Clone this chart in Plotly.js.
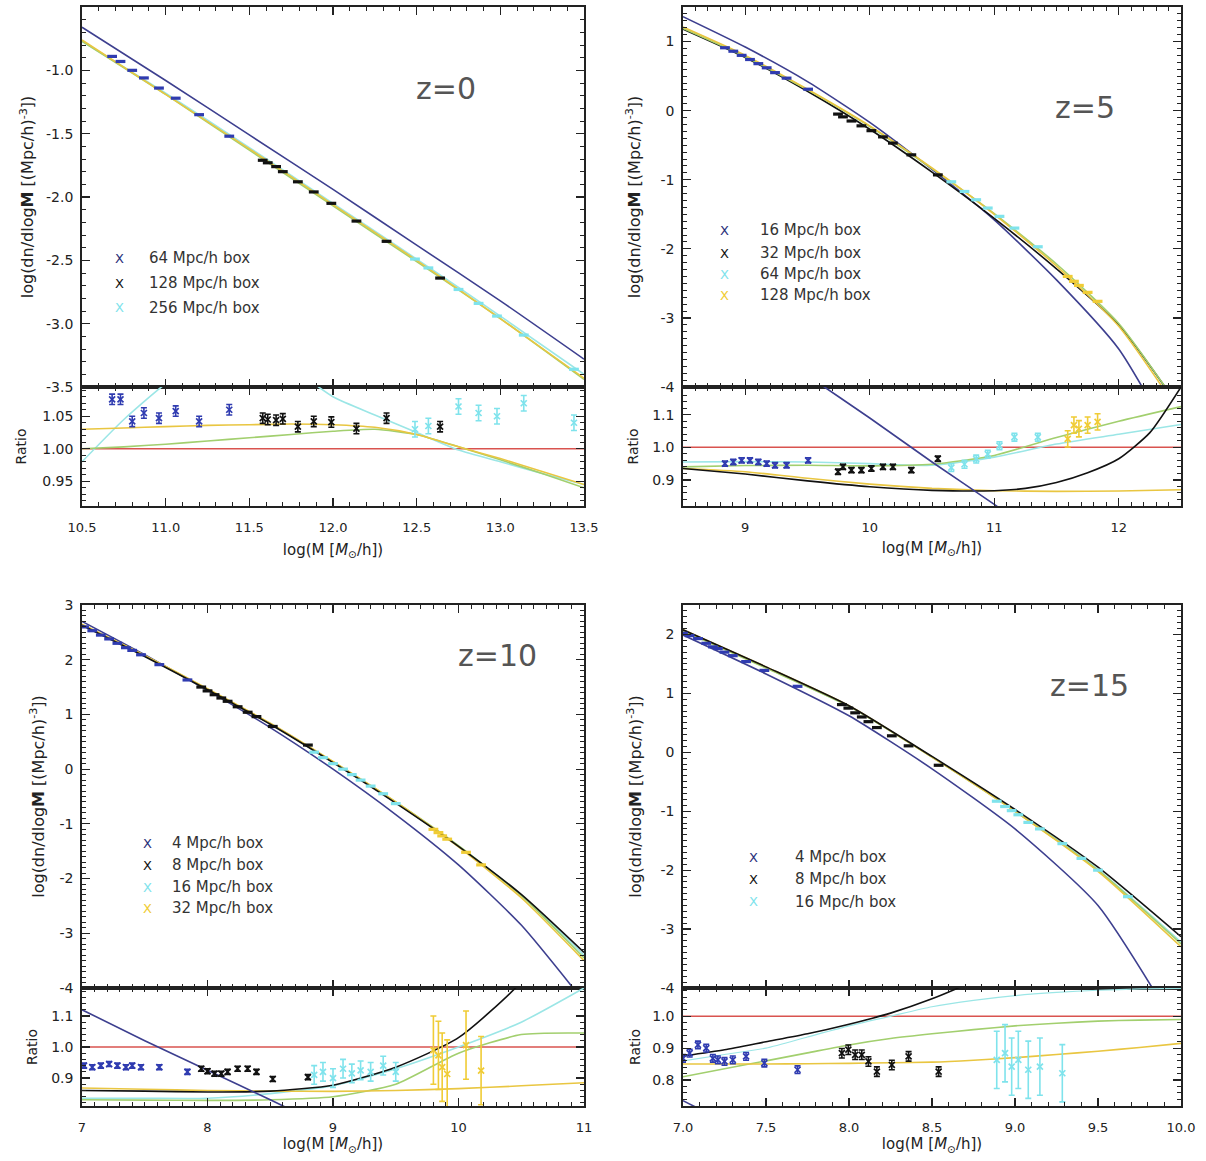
<!DOCTYPE html>
<html><head><meta charset="utf-8">
<script src="https://cdn.plot.ly/plotly-3.0.1.min.js"></script>
<style>html,body{margin:0;padding:0;background:#fff}#chart{width:1206px;height:1161px}</style>
</head><body><div id="chart"></div>
<script>
// ================= DATA =================
// ---- Panel 1 : z=0 ----
const p1_grid   = [10.5, 11.0, 11.5, 12.0, 12.5, 13.0, 13.5];
const p1_navy   = [-0.66, -1.08, -1.51, -1.94, -2.38, -2.82, -3.28];
const p1_yellow = [-0.76, -1.19, -1.62, -2.06, -2.50, -2.96, -3.43];
const p1_green  = [-0.77, -1.19, -1.63, -2.07, -2.51, -2.96, -3.44];
const p1_cyan   = [-0.77, -1.18, -1.61, -2.05, -2.49, -2.94, -3.40];
const p1_rgrid    = [10.5, 10.75, 11.0, 11.25, 11.5, 11.75, 12.0, 12.25, 12.5, 12.75, 13.0, 13.25, 13.5];
const p1_r_yellow = [1.030, 1.032, 1.034, 1.036, 1.037, 1.038, 1.037, 1.033, 1.022, 1.003, 0.985, 0.965, 0.945];
const p1_r_green  = [1.000, 1.003, 1.007, 1.012, 1.017, 1.022, 1.027, 1.030, 1.022, 1.003, 0.983, 0.962, 0.940];
const p1_r_cyan   = [0.980, 1.045, 1.100, 1.140, 1.160, 1.125, 1.080, 1.052, 1.025, 0.998, 0.980, 0.962, 0.945];
const p1_blue_x  = [10.68, 10.73, 10.80, 10.87, 10.96, 11.06, 11.20, 11.38];
const p1_blue_y  = [-0.89, -0.93, -1.00, -1.06, -1.14, -1.22, -1.35, -1.52];
const p1_blue_r  = [1.076, 1.076, 1.042, 1.055, 1.047, 1.058, 1.042, 1.060];
const p1_black_x = [11.58, 11.61, 11.66, 11.70, 11.79, 11.885, 11.99, 12.14, 12.32, 12.64];
const p1_black_y = [-1.71, -1.73, -1.76, -1.80, -1.88, -1.96, -2.05, -2.19, -2.35, -2.64];
const p1_black_r = [1.047, 1.045, 1.044, 1.046, 1.034, 1.042, 1.041, 1.031, 1.047, 1.034];
const p1_cyan_x  = [12.49, 12.57, 12.75, 12.87, 12.98, 13.14, 13.44];
const p1_cyan_y  = [-2.49, -2.56, -2.73, -2.84, -2.94, -3.09, -3.36];
const p1_cyan_r  = [1.030, 1.035, 1.065, 1.055, 1.050, 1.070, 1.040];
const p1_boxes = ['64 Mpc/h box', '128 Mpc/h box', '256 Mpc/h box'];
const p1_ytick_vals = [-3.5, -3.0, -2.5, -2.0, -1.5, -1.0, -0.5];
const p1_ytick_text = ['-3.5', '-3.0', '-2.5', '-2.0', '-1.5', '-1.0', '-0.5'];

// ---- Panel 2 : z=5 ----
const p2_grid   = [8.5, 9.0, 9.5, 10.0, 10.5, 11.0, 11.5, 12.0, 12.5];
const p2_navy   = [1.36, 0.92, 0.42, -0.17, -0.85, -1.58, -2.45, -3.45, -5.00];
const p2_yellow = [1.21, 0.80, 0.31, -0.22, -0.83, -1.50, -2.25, -3.12, -4.40];
const p2_green  = [1.19, 0.78, 0.30, -0.23, -0.84, -1.49, -2.22, -3.08, -4.33];
const p2_black  = [1.18, 0.77, 0.28, -0.27, -0.89, -1.56, -2.29, -3.10, -4.33];
const p2_r_navy   = [1.50, 1.35, 1.22, 1.09, 0.955, 0.825, 0.69, 0.56, 0.43];
const p2_r_yellow = [0.935, 0.925, 0.905, 0.887, 0.874, 0.867, 0.865, 0.866, 0.870];
const p2_r_green  = [0.940, 0.944, 0.945, 0.943, 0.948, 0.975, 1.030, 1.080, 1.125];
const p2_r_cyan   = [0.955, 0.956, 0.955, 0.950, 0.945, 0.970, 1.010, 1.040, 1.070];
const p2_bgrid    = [8.5, 9.0, 9.5, 10.0, 10.5, 11.0, 11.25, 11.5, 11.75, 12.0, 12.25, 12.5];
const p2_r_black  = [0.935, 0.918, 0.897, 0.879, 0.868, 0.867, 0.874, 0.892, 0.922, 0.965, 1.045, 1.185];
const p2_blue_x  = [8.837, 8.904, 8.971, 9.038, 9.105, 9.172, 9.239, 9.332, 9.505];
const p2_blue_y  = [0.91, 0.86, 0.80, 0.74, 0.68, 0.62, 0.55, 0.47, 0.31];
const p2_blue_r  = [0.950, 0.955, 0.960, 0.960, 0.955, 0.950, 0.945, 0.945, 0.960];
const p2_black_x = [9.745, 9.785, 9.853, 9.933, 10.013, 10.106, 10.186, 10.334, 10.547];
const p2_black_y = [-0.05, -0.09, -0.15, -0.22, -0.29, -0.38, -0.47, -0.64, -0.93];
const p2_black_r = [0.925, 0.940, 0.930, 0.930, 0.935, 0.940, 0.940, 0.930, 0.965];
const p2_cyan_x  = [10.655, 10.761, 10.855, 10.948, 11.042, 11.162, 11.35];
const p2_cyan_y  = [-1.03, -1.17, -1.29, -1.41, -1.53, -1.70, -1.97];
const p2_cyan_r  = [0.938, 0.948, 0.964, 0.979, 1.005, 1.031, 1.031];
const p2_yel_x   = [11.59, 11.64, 11.68, 11.75, 11.83];
const p2_yel_y   = [-2.40, -2.47, -2.53, -2.63, -2.76];
const p2_yel_r   = [1.026, 1.068, 1.057, 1.068, 1.078];
const p2_boxes = ['16 Mpc/h box', '32 Mpc/h box', '64 Mpc/h box', '128 Mpc/h box'];
const p2_ytick_vals = [-4, -3, -2, -1, 0, 1];
const p2_ytick_text = ['-4', '-3', '-2', '-1', '0', '1'];

// ---- Panel 3 : z=10 ----
const p3_grid   = [7.0, 7.5, 8.0, 8.5, 9.0, 9.5, 10.0, 10.5, 11.0];
const p3_navy   = [2.70, 2.09, 1.44, 0.76, 0.00, -0.83, -1.75, -2.85, -4.25];
const p3_yellow = [2.65, 2.08, 1.47, 0.84, 0.14, -0.60, -1.42, -2.35, -3.50];
const p3_green  = [2.64, 2.07, 1.46, 0.83, 0.13, -0.60, -1.40, -2.31, -3.45];
const p3_black  = [2.63, 2.06, 1.45, 0.82, 0.12, -0.62, -1.41, -2.29, -3.35];
const p3_cyan   = [2.64, 2.07, 1.46, 0.83, 0.13, -0.61, -1.41, -2.30, -3.40];
const p3_r_navy   = [1.12, 1.02, 0.925, 0.83, 0.73, 0.62, 0.50, 0.40, 0.30];
const p3_r_black  = [0.860, 0.858, 0.855, 0.858, 0.877, 0.935, 1.030, 1.210, 1.500];
const p3_r_yellow = [0.868, 0.864, 0.860, 0.858, 0.857, 0.860, 0.866, 0.875, 0.885];
const p3_r_green  = [0.830, 0.829, 0.828, 0.830, 0.840, 0.880, 0.980, 1.040, 1.045];
const p3_r_cyan   = [0.835, 0.835, 0.835, 0.850, 0.875, 0.930, 1.000, 1.080, 1.190];
const p3_blue_x  = [7.016, 7.082, 7.15, 7.216, 7.282, 7.35, 7.40, 7.47, 7.616, 7.84];
const p3_blue_y  = [2.60, 2.53, 2.45, 2.38, 2.30, 2.22, 2.17, 2.09, 1.91, 1.63];
const p3_blue_r  = [0.940, 0.935, 0.940, 0.945, 0.940, 0.935, 0.940, 0.935, 0.935, 0.920];
const p3_black_x = [7.95, 8.0, 8.056, 8.11, 8.16, 8.24, 8.32, 8.39, 8.52, 8.80];
const p3_black_y = [1.50, 1.43, 1.36, 1.30, 1.24, 1.14, 1.04, 0.96, 0.78, 0.44];
const p3_black_r = [0.930, 0.922, 0.914, 0.914, 0.920, 0.930, 0.930, 0.920, 0.897, 0.903];
const p3_cyan_x  = [8.85, 8.92, 9.0, 9.08, 9.15, 9.22, 9.3, 9.4, 9.5];
const p3_cyan_y  = [0.31, 0.21, 0.10, 0.00, -0.10, -0.20, -0.31, -0.45, -0.63];
const p3_cyan_r  = [0.910, 0.920, 0.900, 0.930, 0.915, 0.925, 0.920, 0.940, 0.920];
const p3_yel_x   = [9.80, 9.84, 9.87, 9.91, 10.06, 10.18];
const p3_yel_y   = [-1.10, -1.16, -1.22, -1.28, -1.52, -1.75];
const p3_yel_r   = [0.990, 0.973, 0.935, 0.913, 1.006, 0.924];
const p3_boxes = ['4 Mpc/h box', '8 Mpc/h box', '16 Mpc/h box', '32 Mpc/h box'];
const p3_ytick_vals = [-4, -3, -2, -1, 0, 1, 2, 3];
const p3_ytick_text = ['-4', '-3', '-2', '-1', '0', '1', '2', '3'];

// ---- Panel 4 : z=15 ----
const p4_grid   = [7.0, 7.5, 8.0, 8.5, 9.0, 9.5, 10.0];
const p4_navy   = [1.99, 1.33, 0.62, -0.28, -1.30, -2.60, -4.80];
const p4_black  = [2.08, 1.45, 0.79, -0.07, -0.97, -1.95, -3.13];
const p4_yellow = [2.08, 1.45, 0.79, -0.08, -1.00, -2.02, -3.30];
const p4_green  = [2.06, 1.43, 0.78, -0.08, -1.00, -2.00, -3.25];
const p4_cyan   = [2.07, 1.44, 0.78, -0.08, -0.99, -1.99, -3.22];
const p4_rgrid    = [7.0, 7.25, 7.5, 7.75, 8.0, 8.25, 8.5, 8.75, 9.0, 9.25, 9.5, 9.75, 10.0];
const p4_r_navy   = [0.735, 0.67, 0.62, 0.58, 0.55, 0.52, 0.49, 0.45, 0.41, 0.37, 0.33, 0.28, 0.23];
const p4_r_black  = [0.875, 0.895, 0.920, 0.945, 0.975, 1.010, 1.055, 1.110, 1.170, 1.240, 1.310, 1.390, 1.470];
const p4_r_green  = [0.810, 0.835, 0.860, 0.885, 0.910, 0.930, 0.945, 0.958, 0.970, 0.978, 0.985, 0.988, 0.990];
const p4_r_yellow = [0.850, 0.850, 0.850, 0.851, 0.852, 0.854, 0.856, 0.862, 0.870, 0.880, 0.890, 0.902, 0.915];
const p4_r_cyan   = [0.860, 0.880, 0.900, 0.935, 0.970, 1.000, 1.030, 1.050, 1.065, 1.075, 1.082, 1.086, 1.088];
const p4_blue_x  = [7.0, 7.04, 7.09, 7.14, 7.18, 7.21, 7.25, 7.30, 7.38, 7.49, 7.69];
const p4_blue_y  = [2.02, 1.98, 1.93, 1.85, 1.79, 1.76, 1.70, 1.64, 1.54, 1.39, 1.12];
const p4_blue_r  = [0.868, 0.884, 0.910, 0.900, 0.868, 0.863, 0.858, 0.863, 0.874, 0.853, 0.832];
const p4_black_x = [7.957, 7.996, 8.037, 8.077, 8.117, 8.168, 8.258, 8.359, 8.54];
const p4_black_y = [0.81, 0.75, 0.67, 0.60, 0.52, 0.42, 0.28, 0.11, -0.22];
const p4_black_r = [0.884, 0.895, 0.879, 0.879, 0.858, 0.826, 0.847, 0.874, 0.826];
const p4_cyan_x  = [8.89, 8.94, 8.98, 9.02, 9.08, 9.15, 9.285, 9.40, 9.50, 9.68];
const p4_cyan_y  = [-0.83, -0.92, -0.99, -1.06, -1.19, -1.30, -1.55, -1.80, -2.00, -2.45];
const p4_cyanr_x = [8.89, 8.94, 8.98, 9.02, 9.08, 9.15, 9.285];
const p4_cyan_r  = [0.863, 0.884, 0.842, 0.863, 0.832, 0.842, 0.821];
const p4_boxes = ['4 Mpc/h box', '8 Mpc/h box', '16 Mpc/h box'];
const p4_ytick_vals = [-4, -3, -2, -1, 0, 1, 2];
const p4_ytick_text = ['-4', '-3', '-2', '-1', '0', '1', '2'];

// reference ratio level and error sizes
const ratio_one = [1, 1];
const err_small = 0.008, err_mid = 0.012, err_big = 0.11;

// ================= STYLE =================
const C = {navy:'#3d3f8f', black:'#111111', yellow:'#e9c641', green:'#a2cf6e', cyan:'#9be6e6', red:'#d9534f',
           dBlue:'#2f3bb0', dBlack:'#111111', dCyan:'#7fe3ec', dYellow:'#f0cc35'};
const FONT = 'DejaVu Sans';
const W = 1206, H = 1161;
const fx = px => px / W, fy = py => 1 - py / H;
const dX = a => [fx(a[0]), fx(a[1])];
const dY = a => [fy(a[1]), fy(a[0])];
const LEFT = [82, 584], RIGHT = [683, 1181];
const TOPMAIN = [7, 387], TOPRATIO = [387, 506], BOTMAIN = [605, 988], BOTRATIO = [988, 1106];

const traces = [];
function line(x, y, color, xa, ya, w) {
  traces.push({type:'scatter', mode:'lines', x:x, y:y, xaxis:xa, yaxis:ya, hoverinfo:'skip', showlegend:false,
    line:{color:color, width:w || 1.6, shape:'spline', smoothing:0.6}});
}
function mainPts(x, y, color, xa, ya) {
  traces.push({type:'scatter', mode:'markers', x:x, y:y, xaxis:xa, yaxis:ya, hoverinfo:'skip', showlegend:false,
    marker:{symbol:'line-ew-open', size:7, color:color, line:{color:color, width:3.2}}});
}
function ratioPts(x, r, err, color, xa, ya) {
  traces.push({type:'scatter', mode:'markers', x:x, y:r, xaxis:xa, yaxis:ya, hoverinfo:'skip', showlegend:false,
    marker:{symbol:'x-thin-open', size:6, color:color, line:{color:color, width:1.7}},
    error_y:{type:'constant', value:err, width:3, thickness:1.6, color:color}});
}

// ---- Panel 1 ----
line(p1_grid, p1_navy, C.navy, 'x', 'y');
line(p1_grid, p1_cyan, C.cyan, 'x', 'y');
line(p1_grid, p1_green, C.green, 'x', 'y');
line(p1_grid, p1_yellow, C.yellow, 'x', 'y');
mainPts(p1_blue_x, p1_blue_y, C.dBlue, 'x', 'y');
mainPts(p1_black_x, p1_black_y, C.dBlack, 'x', 'y');
mainPts(p1_cyan_x, p1_cyan_y, C.dCyan, 'x', 'y');
line([10.5, 13.5], ratio_one, C.red, 'x2', 'y2');
line(p1_rgrid, p1_r_cyan, C.cyan, 'x2', 'y2');
line(p1_rgrid, p1_r_green, C.green, 'x2', 'y2');
line(p1_rgrid, p1_r_yellow, C.yellow, 'x2', 'y2');
ratioPts(p1_blue_x, p1_blue_r, err_small, C.dBlue, 'x2', 'y2');
ratioPts(p1_black_x, p1_black_r, err_small, C.dBlack, 'x2', 'y2');
ratioPts(p1_cyan_x, p1_cyan_r, err_mid, C.dCyan, 'x2', 'y2');

// ---- Panel 2 ----
line(p2_grid, p2_navy, C.navy, 'x3', 'y3');
line(p2_grid, p2_black, C.black, 'x3', 'y3');
line(p2_grid, p2_green, C.green, 'x3', 'y3');
line(p2_grid, p2_yellow, C.yellow, 'x3', 'y3');
mainPts(p2_blue_x, p2_blue_y, C.dBlue, 'x3', 'y3');
mainPts(p2_black_x, p2_black_y, C.dBlack, 'x3', 'y3');
mainPts(p2_cyan_x, p2_cyan_y, C.dCyan, 'x3', 'y3');
mainPts(p2_yel_x, p2_yel_y, C.dYellow, 'x3', 'y3');
line([8.5, 12.5], ratio_one, C.red, 'x4', 'y4');
line(p2_grid, p2_r_cyan, C.cyan, 'x4', 'y4');
line(p2_grid, p2_r_green, C.green, 'x4', 'y4');
line(p2_grid, p2_r_yellow, C.yellow, 'x4', 'y4');
line(p2_bgrid, p2_r_black, C.black, 'x4', 'y4');
line(p2_grid, p2_r_navy, C.navy, 'x4', 'y4');
ratioPts(p2_blue_x, p2_blue_r, err_small, C.dBlue, 'x4', 'y4');
ratioPts(p2_black_x, p2_black_r, err_small, C.dBlack, 'x4', 'y4');
ratioPts(p2_cyan_x, p2_cyan_r, err_mid, C.dCyan, 'x4', 'y4');
ratioPts(p2_yel_x, p2_yel_r, 0.025, C.dYellow, 'x4', 'y4');

// ---- Panel 3 ----
line(p3_grid, p3_navy, C.navy, 'x5', 'y5');
line(p3_grid, p3_cyan, C.cyan, 'x5', 'y5');
line(p3_grid, p3_green, C.green, 'x5', 'y5');
line(p3_grid, p3_yellow, C.yellow, 'x5', 'y5');
line(p3_grid, p3_black, C.black, 'x5', 'y5');
mainPts(p3_blue_x, p3_blue_y, C.dBlue, 'x5', 'y5');
mainPts(p3_black_x, p3_black_y, C.dBlack, 'x5', 'y5');
mainPts(p3_cyan_x, p3_cyan_y, C.dCyan, 'x5', 'y5');
mainPts(p3_yel_x, p3_yel_y, C.dYellow, 'x5', 'y5');
line([7, 11], ratio_one, C.red, 'x6', 'y6');
line(p3_grid, p3_r_cyan, C.cyan, 'x6', 'y6');
line(p3_grid, p3_r_green, C.green, 'x6', 'y6');
line(p3_grid, p3_r_yellow, C.yellow, 'x6', 'y6');
line(p3_grid, p3_r_black, C.black, 'x6', 'y6');
line(p3_grid, p3_r_navy, C.navy, 'x6', 'y6');
ratioPts(p3_blue_x, p3_blue_r, err_small, C.dBlue, 'x6', 'y6');
ratioPts(p3_black_x, p3_black_r, err_small, C.dBlack, 'x6', 'y6');
ratioPts(p3_cyan_x, p3_cyan_r, 0.03, C.dCyan, 'x6', 'y6');
ratioPts(p3_yel_x, p3_yel_r, err_big, C.dYellow, 'x6', 'y6');

// ---- Panel 4 ----
line(p4_grid, p4_navy, C.navy, 'x7', 'y7');
line(p4_grid, p4_cyan, C.cyan, 'x7', 'y7');
line(p4_grid, p4_green, C.green, 'x7', 'y7');
line(p4_grid, p4_yellow, C.yellow, 'x7', 'y7');
line(p4_grid, p4_black, C.black, 'x7', 'y7');
mainPts(p4_blue_x, p4_blue_y, C.dBlue, 'x7', 'y7');
mainPts(p4_black_x, p4_black_y, C.dBlack, 'x7', 'y7');
mainPts(p4_cyan_x, p4_cyan_y, C.dCyan, 'x7', 'y7');
line([7, 10], ratio_one, C.red, 'x8', 'y8');
line(p4_rgrid, p4_r_cyan, C.cyan, 'x8', 'y8', 1.2);
line(p4_rgrid, p4_r_green, C.green, 'x8', 'y8');
line(p4_rgrid, p4_r_yellow, C.yellow, 'x8', 'y8');
line(p4_rgrid, p4_r_black, C.black, 'x8', 'y8');
line(p4_rgrid, p4_r_navy, C.navy, 'x8', 'y8');
ratioPts(p4_blue_x, p4_blue_r, 0.012, C.dBlue, 'x8', 'y8');
ratioPts(p4_black_x, p4_black_r, 0.015, C.dBlack, 'x8', 'y8');
ratioPts(p4_cyanr_x, p4_cyan_r, 0.09, C.dCyan, 'x8', 'y8');

// ================= AXES =================
const YT = 'log(dn/dlog<b>M</b> [(Mpc/h)<sup>-3</sup>])';
const XT = 'log(M [<i>M</i><sub>⊙</sub>/h])';
function axis(extra) {
  return Object.assign({
    showline:true, linecolor:'#222', linewidth:1.8, mirror:'allticks',
    ticks:'inside', ticklen:8, tickwidth:1.2, tickcolor:'#222',
    showgrid:false, zeroline:false, fixedrange:true, ticklabelstandoff:4,
    tickfont:{family:FONT, size:14, color:'#222'}
  }, extra);
}
function xaxisLab(extra) {
  return axis(Object.assign({ticklabelstandoff:9, tickfont:{family:FONT, size:13, color:'#222'}}, extra));
}
function minor(d) { return {ticks:'inside', ticklen:4, tickwidth:1, tickcolor:'#222', showgrid:false, dtick:d, tick0:0}; }
function ttl(text, size, standoff) { return {text:text, standoff:standoff, font:{family:FONT, size:size, color:'#222'}}; }

const layout = {
  width:W, height:H, margin:{l:0, r:0, t:0, b:0}, showlegend:false,
  paper_bgcolor:'#ffffff', plot_bgcolor:'#ffffff', font:{family:FONT, color:'#222'},
  // panel 1
  xaxis:  axis({domain:dX(LEFT), range:[10.5, 13.5], anchor:'y', dtick:0.5, tick0:0, showticklabels:false, minor:minor(0.1)}),
  yaxis:  axis({domain:dY(TOPMAIN), range:[-3.5, -0.5], anchor:'x', tickmode:'array', tickvals:p1_ytick_vals, ticktext:p1_ytick_text, minor:minor(0.1), title:ttl(YT, 16, 8)}),
  xaxis2: xaxisLab({domain:dX(LEFT), range:[10.5, 13.5], anchor:'y2', dtick:0.5, tick0:0, tickformat:'.1f', minor:minor(0.1), title:ttl(XT, 15, 10)}),
  yaxis2: axis({domain:dY(TOPRATIO), range:[0.912, 1.095], anchor:'x2', dtick:0.05, tick0:0, tickformat:'.2f', minor:minor(0.01), title:ttl('Ratio', 14, 12)}),
  // panel 2
  xaxis3: axis({domain:dX(RIGHT), range:[8.5, 12.5], anchor:'y3', dtick:1, tick0:0, showticklabels:false, minor:minor(0.1)}),
  yaxis3: axis({domain:dY(TOPMAIN), range:[-4, 1.5], anchor:'x3', tickmode:'array', tickvals:p2_ytick_vals, ticktext:p2_ytick_text, minor:minor(0.1), title:ttl(YT, 16, 16)}),
  xaxis4: xaxisLab({domain:dX(RIGHT), range:[8.5, 12.5], anchor:'y4', dtick:1, tick0:0, minor:minor(0.1), title:ttl(XT, 15, 8)}),
  yaxis4: axis({domain:dY(TOPRATIO), range:[0.82, 1.185], anchor:'x4', dtick:0.1, tick0:0, tickformat:'.1f', minor:minor(0.02), title:ttl('Ratio', 14, 10)}),
  // panel 3
  xaxis5: axis({domain:dX(LEFT), range:[7, 11], anchor:'y5', dtick:1, tick0:0, showticklabels:false, minor:minor(0.1)}),
  yaxis5: axis({domain:dY(BOTMAIN), range:[-4, 3], anchor:'x5', tickmode:'array', tickvals:p3_ytick_vals, ticktext:p3_ytick_text, minor:minor(0.1), title:ttl(YT, 16, 11)}),
  xaxis6: xaxisLab({domain:dX(LEFT), range:[7, 11], anchor:'y6', dtick:1, tick0:0, minor:minor(0.1), title:ttl(XT, 15, 0)}),
  yaxis6: axis({domain:dY(BOTRATIO), range:[0.81, 1.19], anchor:'x6', dtick:0.1, tick0:0, tickformat:'.1f', minor:minor(0.02), title:ttl('Ratio', 14, 10)}),
  // panel 4
  xaxis7: axis({domain:dX(RIGHT), range:[7, 10], anchor:'y7', dtick:0.5, tick0:0, showticklabels:false, minor:minor(0.1)}),
  yaxis7: axis({domain:dY(BOTMAIN), range:[-4, 2.5], anchor:'x7', tickmode:'array', tickvals:p4_ytick_vals, ticktext:p4_ytick_text, minor:minor(0.1), title:ttl(YT, 16, 15)}),
  xaxis8: xaxisLab({domain:dX(RIGHT), range:[7, 10], anchor:'y8', dtick:0.5, tick0:0, tickformat:'.1f', minor:minor(0.1), title:ttl(XT, 15, 0)}),
  yaxis8: axis({domain:dY(BOTRATIO), range:[0.718, 1.089], anchor:'x8', dtick:0.1, tick0:0, tickformat:'.1f', minor:minor(0.02), title:ttl('Ratio', 14, 8)}),
  annotations:[]
};

// ================= TEXT =================
const ann = layout.annotations;
function txt(px, py, text, opts) {
  ann.push(Object.assign({xref:'paper', yref:'paper', x:fx(px), y:fy(py), text:text, showarrow:false,
    xanchor:'center', yanchor:'middle', font:{family:FONT, size:13, color:'#222'}}, opts || {}));
}
// redshift labels
const zfont = {family:FONT, size:30, color:'#555'};
txt(446, 88, 'z=0', {font:zfont});
txt(1085, 108, 'z=5', {font:zfont});
txt(497, 655, 'z=10', {font:zfont});
txt(1089, 685, 'z=15', {font:zfont});
// legends
function legend(xm, xt, ys, labels, colors) {
  labels.forEach((lab, i) => {
    txt(xm, ys[i], 'X', {font:{family:FONT, size:13, color:colors[i]}});
    txt(xt, ys[i], lab, {xanchor:'left', font:{family:FONT, size:15, color:'#333'}});
  });
}
legend(119, 147, [258, 283, 308], p1_boxes, ['#2a2f7a', '#111', C.dCyan]);
legend(724, 758, [230, 253, 274, 295], p2_boxes, ['#2a2f7a', '#111', C.dCyan, C.dYellow]);
legend(147, 170, [843, 865, 887, 908], p3_boxes, ['#2a2f7a', '#111', C.dCyan, C.dYellow]);
legend(753, 793, [857, 879, 902], p4_boxes, ['#2a2f7a', '#111', C.dCyan]);

Plotly.newPlot('chart', traces, layout, {staticPlot:true, displayModeBar:false});
</script>
</body></html>
